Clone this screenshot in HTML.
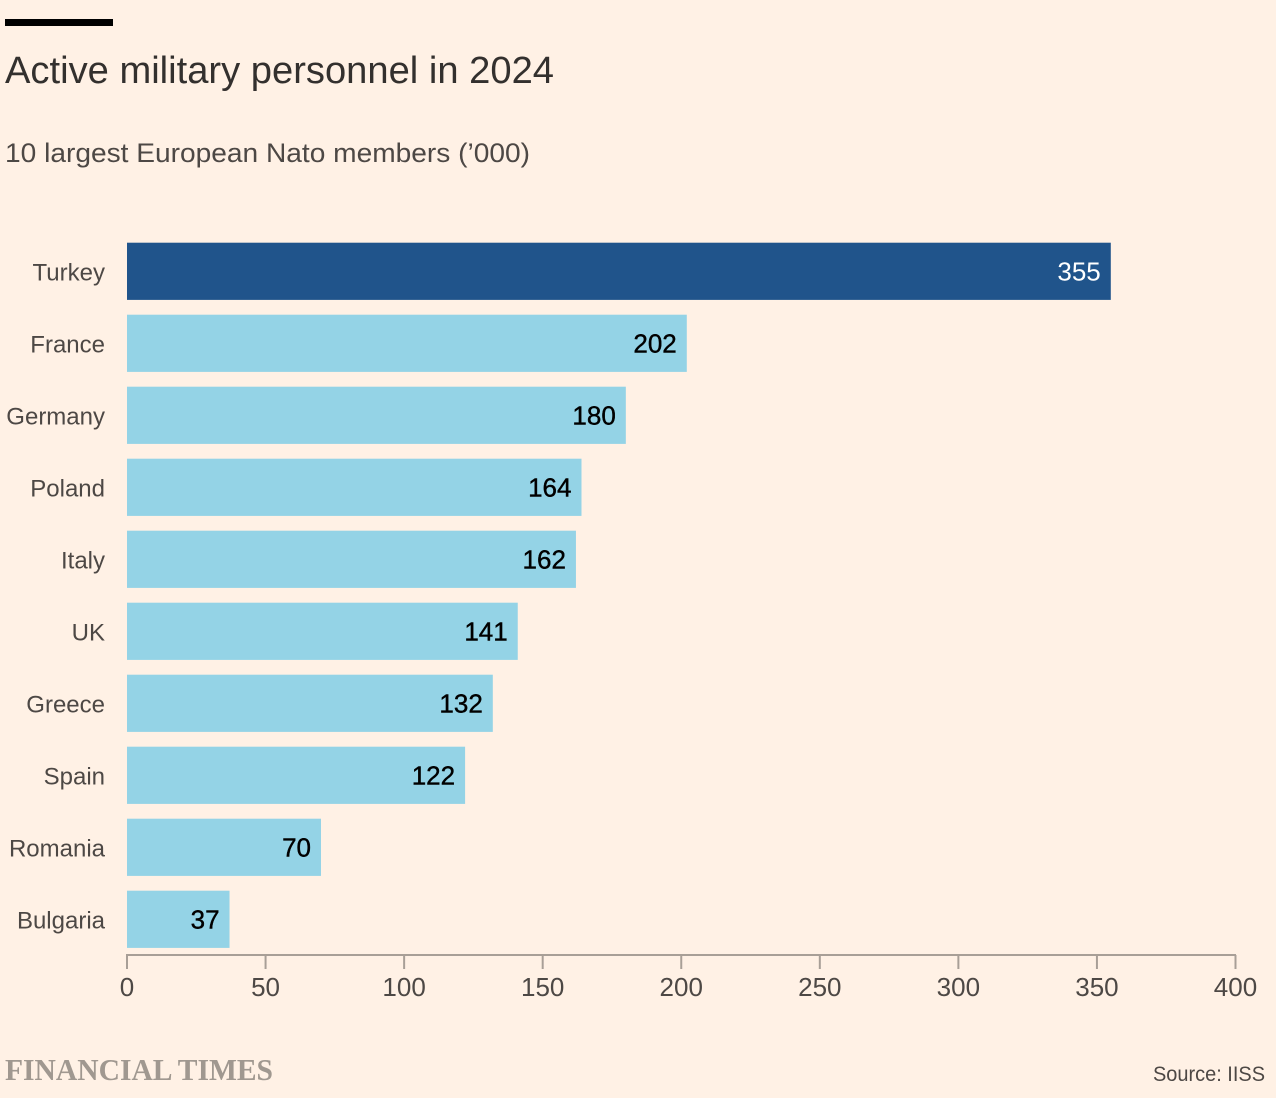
<!DOCTYPE html>
<html lang="en">
<head>
<meta charset="utf-8">
<title>Active military personnel in 2024</title>
<style>
html,body{margin:0;padding:0;background:#fff1e5;width:1276px;height:1098px;overflow:hidden}
svg{display:block;font-family:"Liberation Sans",sans-serif}
</style>
</head>
<body>
<svg id="chart" width="1276" height="1098" viewBox="0 0 1276 1098" xmlns="http://www.w3.org/2000/svg">
  <rect width="1276" height="1098" fill="#fff1e5"/>
  <rect x="5" y="19" width="108" height="7" fill="#000"/>
  <text x="5" y="83" font-size="38" fill="#33302e" textLength="549" lengthAdjust="spacingAndGlyphs">Active military personnel in 2024</text>
  <text x="5" y="162" font-size="27" fill="#4d4845" textLength="525" lengthAdjust="spacingAndGlyphs">10 largest European Nato members (’000)</text>
  <g id="bars"></g>
  <g id="axis"></g>
  <text x="5" y="1080" font-family="'Liberation Serif',serif" font-weight="700" font-size="31" fill="#a09890" textLength="268" lengthAdjust="spacingAndGlyphs">FINANCIAL TIMES</text>
  <text x="1265" y="1081" font-size="21" fill="#4d4845" text-anchor="end" textLength="112" lengthAdjust="spacingAndGlyphs">Source: IISS</text>
</svg>
<script>
const countries = ['Turkey','France','Germany','Poland','Italy','UK','Greece','Spain','Romania','Bulgaria'];
const personnel = [355,202,180,164,162,141,132,122,70,37];
const highlighted = ['Turkey'];
const xTicks = [0,50,100,150,200,250,300,350,400];

const NS = 'http://www.w3.org/2000/svg';
const xScale = v => 127 + v * (1235.5 - 127) / 400;
const bandTop = i => 242.7 + i * 72;
const BAR_H = 57.2;
const AXIS_Y = 955;

function make(tag, attrs, text) {
  const el = document.createElementNS(NS, tag);
  for (const k in attrs) el.setAttribute(k, attrs[k]);
  if (text !== undefined) el.textContent = text;
  return el;
}

const barsG = document.getElementById('bars');
countries.forEach((c, i) => {
  const slug = c.toLowerCase();
  const isHi = highlighted.includes(c);
  const label = make('text', {x: 105, y: bandTop(i) + 38, 'font-size': 24, fill: '#4d4845', 'text-anchor': 'end'}, c);
  
  
  barsG.appendChild(label);

  const bar = make('rect', {x: xScale(0), y: bandTop(i), width: xScale(personnel[i]) - xScale(0), height: BAR_H, fill: isHi ? '#20548b' : '#94d3e6'});
  
  
  barsG.appendChild(bar);

  const val = make('text', {x: xScale(personnel[i]) - 10, y: bandTop(i) + 38, 'font-size': 26, fill: isHi ? '#fff' : '#000', stroke: isHi ? 'none' : '#000', 'stroke-width': 0.4, 'text-anchor': 'end'}, String(personnel[i]));
  
  
  barsG.appendChild(val);
});

const axisG = document.getElementById('axis');
const domain = make('line', {x1: xScale(xTicks[0]) - 1, x2: xScale(xTicks[xTicks.length - 1]) + 0.5, y1: AXIS_Y, y2: AXIS_Y, stroke: '#a89f97', 'stroke-width': 2});


axisG.appendChild(domain);

xTicks.forEach(t => {
  const tick = make('line', {x1: xScale(t), x2: xScale(t), y1: AXIS_Y, y2: AXIS_Y + 14, stroke: '#a89f97', 'stroke-width': 2});
  
  
  axisG.appendChild(tick);

  const lab = make('text', {x: xScale(t), y: 996, 'font-size': 26, fill: '#4d4845', 'text-anchor': 'middle'}, String(t));
  
  
  axisG.appendChild(lab);
});
</script>
</body>
</html>
